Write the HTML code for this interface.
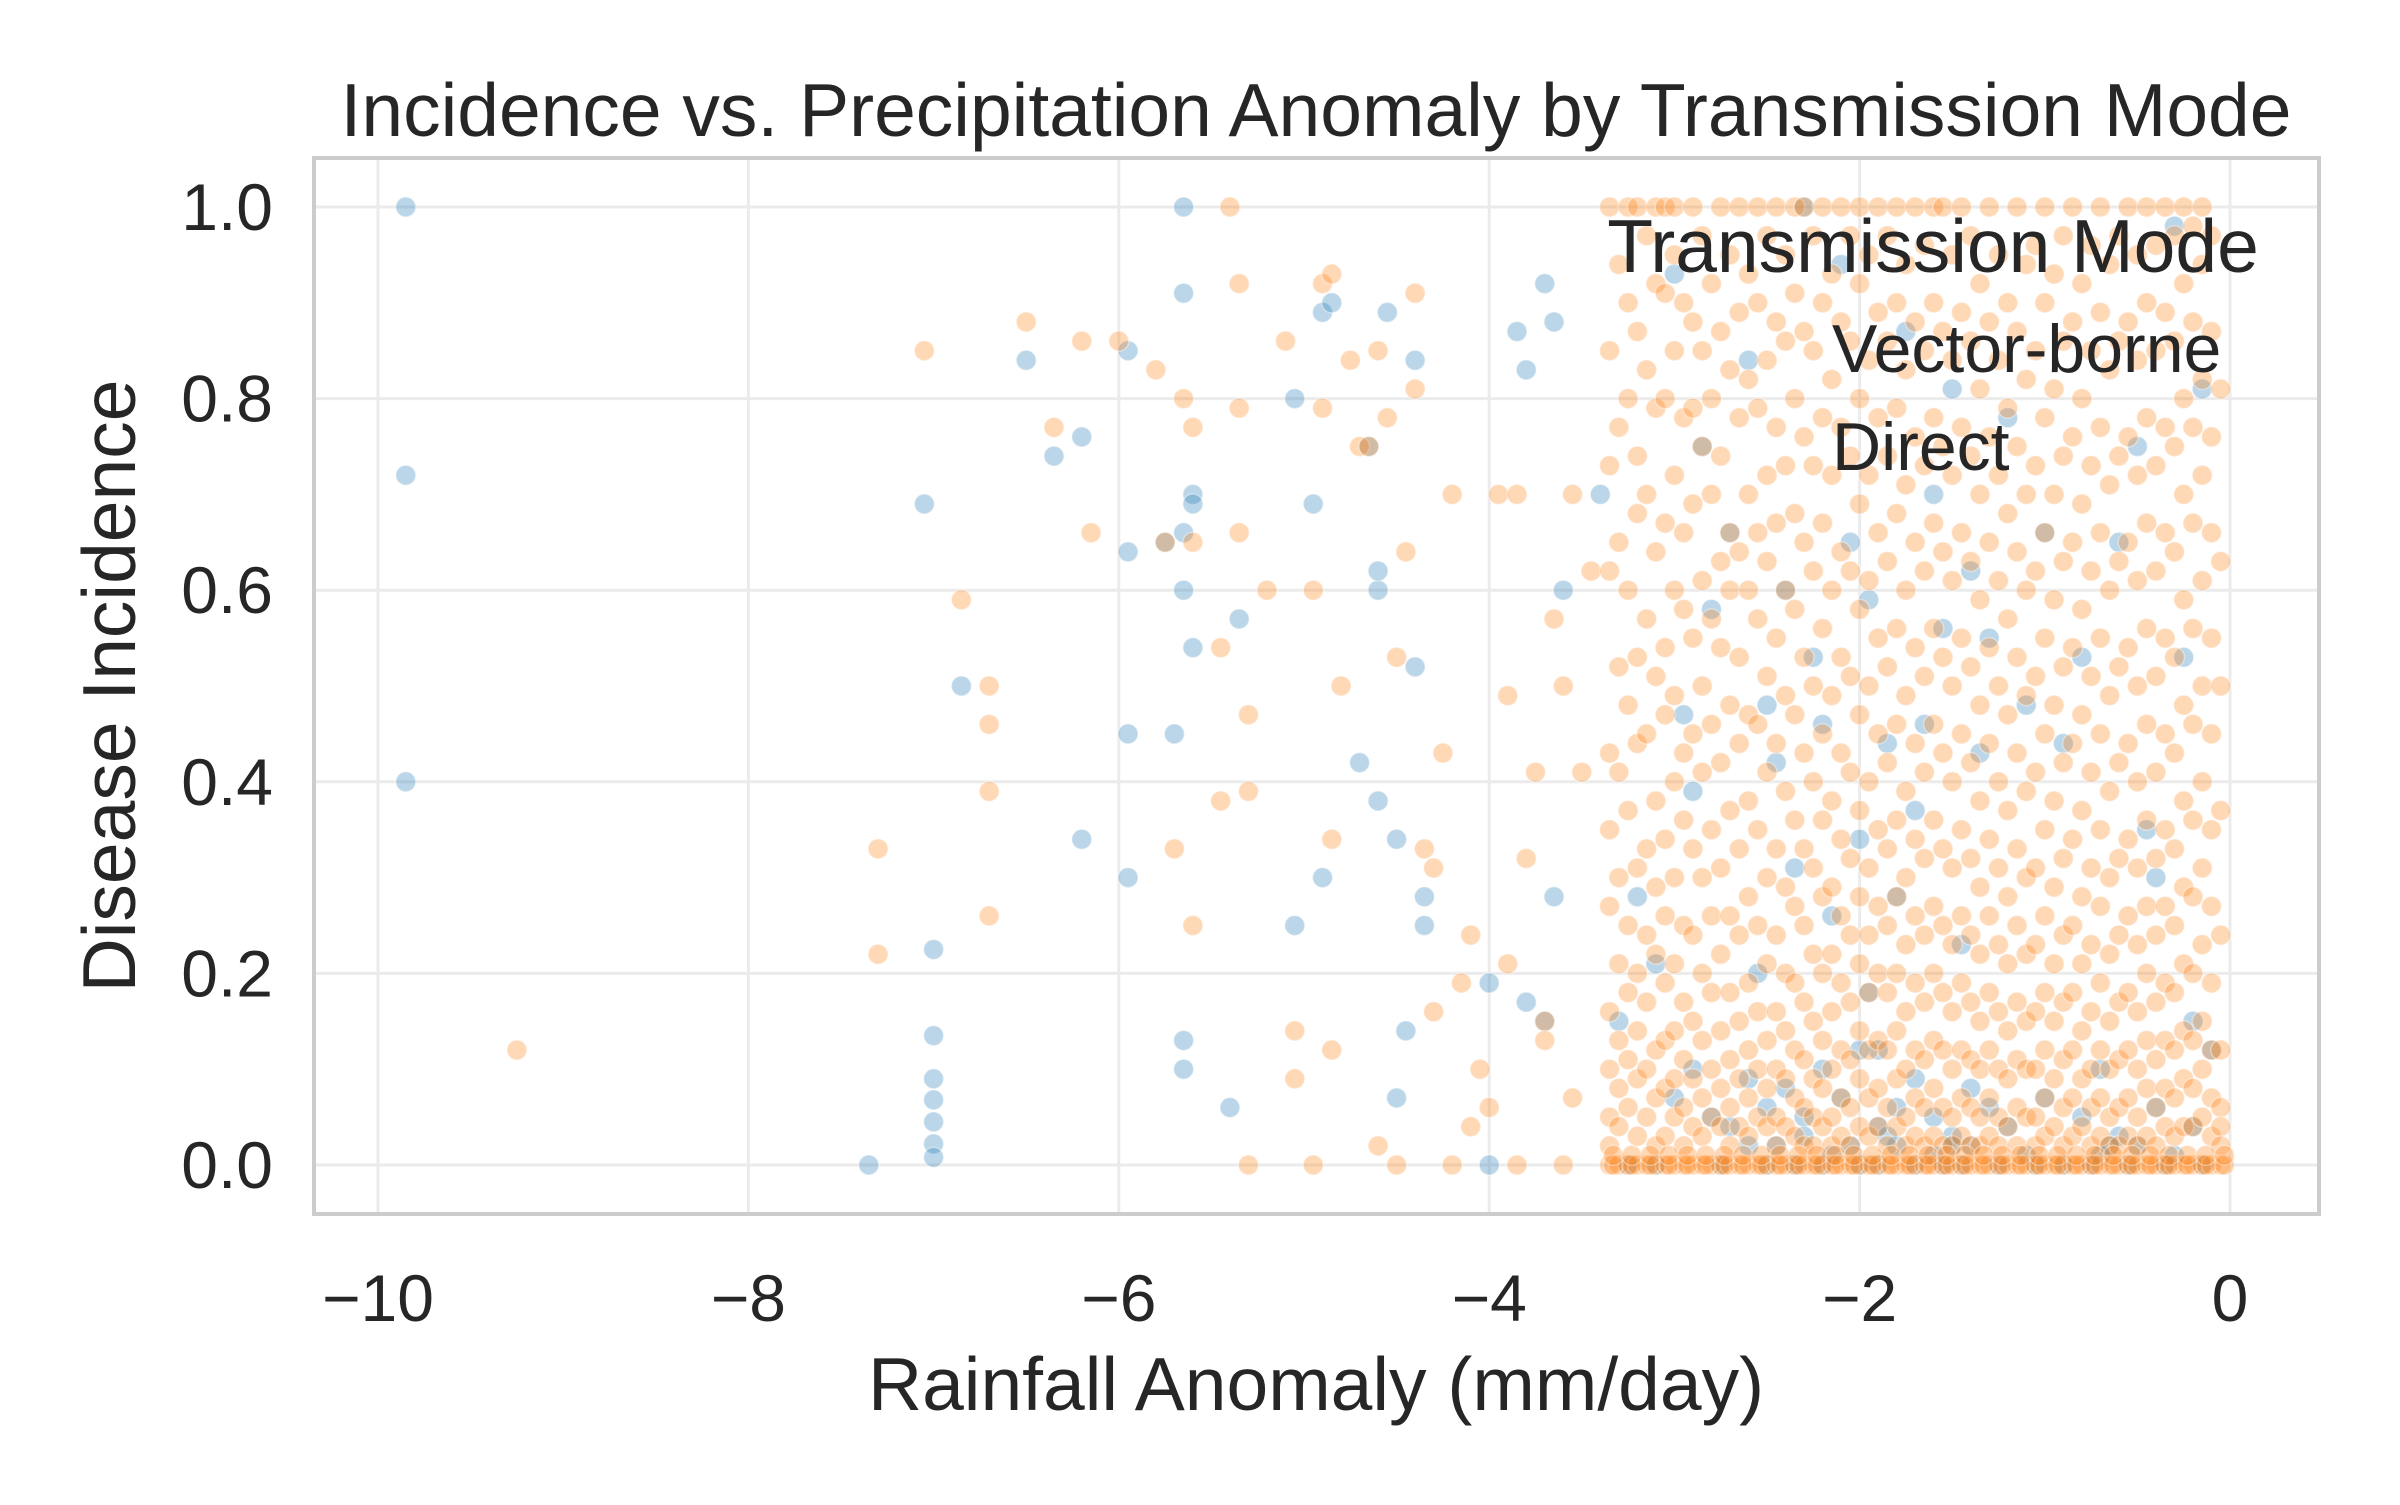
<!DOCTYPE html>
<html><head><meta charset="utf-8"><style>
html,body{margin:0;padding:0;background:#fff;}
svg text{font-family:"Liberation Sans","DejaVu Sans",sans-serif;fill:#262626;}
</style></head><body>
<svg id="chart" width="2400" height="1500" viewBox="0 0 2400 1500" xmlns="http://www.w3.org/2000/svg">
<rect x="0" y="0" width="2400" height="1500" fill="#fff"/>
<g id="grid"></g>
<g id="pts"></g>
<rect x="314" y="158" width="2005" height="1056" fill="none" stroke="#cccccc" stroke-width="4"/>
<g id="ticks"></g>
<text x="1316" y="136" font-size="75" text-anchor="middle">Incidence vs. Precipitation Anomaly by Transmission Mode</text>
<text x="1316" y="1410" font-size="75" text-anchor="middle">Rainfall Anomaly (mm/day)</text>
<text transform="translate(135,686) rotate(-90)" font-size="75" text-anchor="middle">Disease Incidence</text>
<g>
<text x="1933" y="272" font-size="75" text-anchor="middle">Transmission Mode</text>
<text x="1832" y="372" font-size="68">Vector-borne</text>
<text x="1832" y="470" font-size="68">Direct</text>
</g>
</svg>
<script>
const xTicks=[-10,-8,-6,-4,-2,0];
const xTickLabels=["\u221210","\u22128","\u22126","\u22124","\u22122","0"];
const yTicks=[0,0.2,0.4,0.6,0.8,1.0];
const yTickLabels=["0.0","0.2","0.4","0.6","0.8","1.0"];
const vecX=[-9.85,-9.85,-9.85,-7.05,-7.0,-7.0,-7.0,-7.0,-7.0,-7.0,-7.0,-7.35,-6.85,-6.5,-6.35,-6.2,-6.2,-5.95,-5.95,-5.95,-5.95,-5.75,-5.7,-5.65,-5.65,-5.65,-5.6,-5.6,-5.65,-5.6,-5.65,-5.65,-5.35,-5.4,-5.05,-5.05,-4.9,-4.85,-4.95,-4.9,-4.65,-4.6,-4.6,-4.7,-4.6,-4.55,-4.4,-4.4,-4.5,-4.35,-4.35,-4.5,-4.45,-4.0,-3.85,-3.8,-3.7,-3.65,-3.6,-3.8,-3.7,-3.65,-4.0,-3.4,
-3.3,-3.2,-3.1,-3.0,-2.95,-2.9,-2.85,-2.8,-2.7,-2.6,-2.55,-2.5,-2.45,-2.4,-2.35,-2.3,-2.25,-2.2,-2.15,-2.1,-2.05,-2.0,-1.95,-1.9,-1.85,-1.8,-1.75,-1.7,-1.65,-1.6,-1.55,-1.5,-1.45,-1.4,-1.35,-1.3,-1.2,-1.1,-1.0,-0.9,-0.8,-0.7,-0.6,-0.5,-0.45,-0.4,-0.3,-0.25,-0.2,-0.15,-0.1,
-3.0,-2.9,-2.8,-2.7,-2.6,-2.5,-2.4,-2.3,-2.2,-2.1,-2.0,-1.9,-1.8,-1.7,-1.6,-1.5,-1.4,-1.3,-1.2,-1.0,-0.8,-0.6,-0.4,-0.2,
-3.25,-3.1,-2.75,-2.5,-2.35,-2.2,-2.0,-1.9,-1.7,-1.55,-1.45,-1.25,-1.05,-0.9,-0.75,-0.55,-0.35,-0.15,-2.6,-2.3,-2.05,-1.95,-1.8,-1.6,-1.4,-0.7,-0.5,-0.3,-2.45,-2.15,-1.85,-1.5,-1.1,-0.65];
const vecY=[1.0,0.72,0.40,0.69,0.225,0.135,0.09,0.068,0.045,0.022,0.008,0,0.50,0.84,0.74,0.76,0.34,0.85,0.64,0.45,0.30,0.65,0.45,1.0,0.91,0.66,0.70,0.69,0.60,0.54,0.13,0.10,0.57,0.06,0.80,0.25,0.89,0.90,0.69,0.30,0.75,0.60,0.62,0.42,0.38,0.89,0.84,0.52,0.34,0.28,0.25,0.07,0.14,0.19,0.87,0.83,0.92,0.88,0.60,0.17,0.15,0.28,0,0.70,
0.15,0.28,0.21,0.93,0.47,0.39,0.75,0.58,0.66,0.84,0.20,0.48,0.42,0.60,0.31,1.0,0.53,0.46,0.26,0.94,0.65,0.34,0.59,0.12,0.44,0.28,0.87,0.37,0.46,0.70,0.56,0.81,0.23,0.62,0.43,0.55,0.78,0.48,0.66,0.44,0.53,0.10,0.65,0.75,0.35,0.30,0.98,0.53,0.15,0.81,0.12,
0.07,0.10,0.05,0.04,0.09,0.06,0.08,0.05,0.10,0.07,0.12,0.04,0.06,0.09,0.05,0.03,0.08,0.06,0.04,0.07,0.05,0.03,0.06,0.04,
0,0,0,0,0,0,0,0,0,0,0,0,0,0,0,0,0,0,0.02,0.03,0.02,0.18,0.02,0.01,0.02,0.01,0.02,0.01,0.02,0.01,0.03,0.02,0.01,0.02];
const dirX=[-9.25,-7.3,-7.3,-7.05,-6.85,-6.7,-6.7,-6.7,-6.7,-6.5,-6.35,-6.2,-6.15,-6.0,-5.8,-5.75,-5.7,-5.65,-5.6,-5.6,-5.6,-5.45,-5.45,-5.4,-5.35,-5.35,-5.35,-5.3,-5.3,-5.2,-5.1,-5.05,-4.95,-4.9,-4.9,-4.85,-4.85,-4.8,-4.75,-4.7,-4.65,-4.6,-4.55,-4.5,-4.45,-4.4,-4.4,-4.35,-4.3,-4.25,-4.2,-4.15,-4.1,-4.05,-4.0,-3.95,-3.9,-3.85,-3.8,-3.75,-3.7,-3.65,-3.6,-3.55,-3.5,-3.45,-5.05,-4.85,-4.6,-4.3,-4.1,-3.9,-3.7,-3.55,-5.3,-4.95,-4.5,-4.2,-3.85,-3.6];
const dirY=[0.12,0.33,0.22,0.85,0.59,0.50,0.46,0.39,0.26,0.88,0.77,0.86,0.66,0.86,0.83,0.65,0.33,0.80,0.77,0.25,0.65,0.54,0.38,1.0,0.92,0.79,0.66,0.47,0.39,0.60,0.86,0.14,0.60,0.92,0.79,0.93,0.34,0.50,0.84,0.75,0.75,0.85,0.78,0.53,0.64,0.91,0.81,0.33,0.31,0.43,0.70,0.19,0.24,0.10,0.06,0.70,0.49,0.70,0.32,0.41,0.15,0.57,0.50,0.70,0.41,0.62,0.09,0.12,0.02,0.16,0.04,0.21,0.13,0.07,0,0,0,0,0,0];
const denseX=[-3.35,-3.3,-3.25,-3.2,-3.15,-3.1,-3.05,-3.0,-2.95,-2.9,-2.85,-2.8,-2.75,-2.7,-2.65,-2.6,-2.55,-2.5,-2.45,-2.4,-2.35,-2.3,-2.25,-2.2,-2.15,-2.1,-2.05,-2.0,-1.95,-1.9,-1.85,-1.8,-1.75,-1.7,-1.65,-1.6,-1.55,-1.5,-1.45,-1.4,-1.35,-1.3,-1.25,-1.2,-1.15,-1.1,-1.05,-1.0,-0.95,-0.9,-0.85,-0.8,-0.75,-0.7,-0.65,-0.6,-0.55,-0.5,-0.45,-0.4,-0.35,-0.3,-0.25,-0.2,-0.15,-0.1,-0.05];
const denseCols=[
[1.0,0.85,0.73,0.62,0.43,0.35,0.27,0.16,0.10,0.05,0.02,0],
[0.94,0.77,0.65,0.52,0.41,0.30,0.21,0.13,0.08,0.04,0],
[1.0,0.90,0.80,0.60,0.48,0.37,0.25,0.18,0.11,0.06,0],
[1.0,0.87,0.74,0.68,0.53,0.44,0.31,0.20,0.14,0.09,0.03,0],
[0.97,0.83,0.70,0.57,0.45,0.33,0.24,0.17,0.10,0.05,0],
[1.0,0.92,0.79,0.64,0.51,0.38,0.29,0.22,0.12,0.07,0.02,0],
[1.0,0.91,0.80,0.67,0.54,0.47,0.34,0.26,0.19,0.13,0.08,0.03,0],
[1.0,0.95,0.85,0.72,0.60,0.49,0.40,0.30,0.21,0.14,0.09,0.05,0],
[0.90,0.78,0.66,0.58,0.43,0.36,0.25,0.17,0.11,0.06,0.02,0],
[1.0,0.88,0.79,0.69,0.55,0.45,0.33,0.24,0.15,0.09,0.04,0],
[0.97,0.85,0.75,0.61,0.50,0.41,0.30,0.20,0.13,0.07,0.03,0],
[0.92,0.80,0.70,0.57,0.46,0.35,0.26,0.18,0.10,0.05,0],
[1.0,0.87,0.74,0.63,0.54,0.42,0.31,0.22,0.14,0.08,0.04,0],
[0.95,0.83,0.66,0.60,0.48,0.37,0.26,0.18,0.11,0.06,0.02,0],
[1.0,0.89,0.78,0.64,0.53,0.44,0.33,0.24,0.15,0.09,0.04,0],
[0.93,0.82,0.70,0.60,0.47,0.38,0.28,0.19,0.12,0.07,0.03,0],
[1.0,0.90,0.79,0.66,0.57,0.46,0.35,0.25,0.16,0.10,0.05,0],
[0.97,0.84,0.72,0.63,0.51,0.41,0.30,0.21,0.13,0.08,0.04,0],
[1.0,0.88,0.77,0.67,0.55,0.44,0.33,0.24,0.16,0.10,0.05,0.02,0],
[0.95,0.86,0.73,0.60,0.49,0.39,0.29,0.20,0.14,0.09,0.04,0],
[1.0,0.91,0.80,0.68,0.58,0.47,0.36,0.27,0.19,0.12,0.07,0.03,0],
[1.0,0.87,0.76,0.65,0.53,0.43,0.33,0.25,0.17,0.11,0.06,0.02,0],
[0.97,0.85,0.73,0.62,0.50,0.40,0.31,0.22,0.15,0.09,0.05,0.02,0],
[1.0,0.90,0.78,0.67,0.56,0.45,0.36,0.28,0.20,0.13,0.08,0.04,0],
[0.93,0.82,0.72,0.60,0.49,0.38,0.29,0.22,0.16,0.10,0.05,0.02,0],
[1.0,0.88,0.77,0.64,0.53,0.43,0.34,0.26,0.19,0.12,0.07,0.03,0],
[0.97,0.86,0.74,0.62,0.51,0.41,0.32,0.24,0.17,0.11,0.06,0.02,0],
[1.0,0.92,0.80,0.69,0.58,0.47,0.37,0.28,0.21,0.14,0.09,0.04,0],
[0.95,0.84,0.72,0.61,0.50,0.40,0.31,0.24,0.18,0.12,0.07,0.03,0],
[1.0,0.89,0.78,0.66,0.55,0.45,0.35,0.27,0.20,0.13,0.08,0.04,0],
[0.97,0.86,0.74,0.63,0.52,0.42,0.33,0.25,0.18,0.12,0.06,0.02,0],
[1.0,0.90,0.79,0.68,0.56,0.46,0.36,0.28,0.20,0.14,0.09,0.04,0],
[0.94,0.83,0.71,0.60,0.49,0.39,0.30,0.23,0.16,0.10,0.05,0.02,0],
[1.0,0.88,0.76,0.65,0.54,0.44,0.34,0.26,0.19,0.12,0.07,0.03,0],
[0.96,0.85,0.73,0.62,0.51,0.41,0.32,0.24,0.17,0.11,0.06,0.02,0],
[1.0,0.90,0.78,0.67,0.56,0.46,0.36,0.27,0.20,0.13,0.08,0.03,0],
[1.0,0.87,0.75,0.64,0.53,0.43,0.33,0.25,0.18,0.12,0.06,0.02,0],
[0.95,0.84,0.72,0.61,0.50,0.40,0.31,0.23,0.16,0.10,0.05,0.02,0],
[1.0,0.89,0.77,0.66,0.55,0.45,0.35,0.26,0.19,0.12,0.07,0.03,0],
[0.97,0.86,0.74,0.63,0.52,0.42,0.32,0.24,0.17,0.11,0.06,0.02,0],
[0.92,0.81,0.70,0.59,0.48,0.38,0.29,0.22,0.15,0.10,0.05,0.02,0],
[1.0,0.88,0.76,0.65,0.54,0.44,0.34,0.26,0.18,0.12,0.07,0.03,0],
[0.95,0.84,0.72,0.61,0.50,0.40,0.31,0.23,0.16,0.10,0.05,0.02,0],
[0.90,0.79,0.68,0.57,0.47,0.37,0.28,0.21,0.14,0.09,0.04,0],
[1.0,0.87,0.75,0.64,0.53,0.43,0.33,0.25,0.17,0.11,0.06,0.02,0],
[0.94,0.82,0.70,0.60,0.49,0.39,0.30,0.22,0.15,0.10,0.05,0],
[0.96,0.85,0.73,0.62,0.51,0.41,0.31,0.23,0.16,0.10,0.05,0.02,0],
[1.0,0.90,0.78,0.66,0.55,0.45,0.35,0.26,0.18,0.12,0.07,0.03,0],
[0.93,0.81,0.70,0.59,0.48,0.38,0.29,0.21,0.15,0.09,0.04,0],
[0.97,0.86,0.74,0.63,0.52,0.42,0.32,0.24,0.17,0.11,0.06,0.02,0],
[1.0,0.88,0.76,0.65,0.54,0.44,0.34,0.25,0.18,0.12,0.07,0.03,0],
[0.92,0.80,0.69,0.58,0.47,0.37,0.28,0.21,0.14,0.09,0.04,0],
[0.96,0.85,0.73,0.62,0.51,0.41,0.31,0.23,0.16,0.10,0.06,0.02,0],
[1.0,0.89,0.77,0.66,0.55,0.45,0.35,0.27,0.19,0.12,0.07,0.03,0],
[0.94,0.83,0.71,0.60,0.49,0.39,0.30,0.22,0.15,0.10,0.05,0.02,0],
[0.97,0.86,0.74,0.63,0.52,0.42,0.32,0.24,0.17,0.11,0.06,0.02,0],
[1.0,0.88,0.76,0.65,0.54,0.44,0.34,0.26,0.18,0.12,0.07,0.03,0],
[0.95,0.84,0.72,0.61,0.50,0.40,0.31,0.23,0.16,0.10,0.05,0.02,0],
[1.0,0.90,0.78,0.67,0.56,0.46,0.36,0.27,0.20,0.13,0.08,0.03,0],
[0.96,0.85,0.73,0.62,0.51,0.41,0.32,0.24,0.17,0.11,0.06,0.02,0],
[1.0,0.89,0.77,0.66,0.55,0.45,0.35,0.27,0.19,0.13,0.08,0.04,0],
[0.97,0.86,0.75,0.64,0.53,0.43,0.33,0.25,0.18,0.12,0.07,0.03,0],
[1.0,0.92,0.80,0.70,0.59,0.48,0.38,0.29,0.21,0.14,0.09,0.04,0],
[0.98,0.88,0.77,0.67,0.56,0.46,0.36,0.28,0.20,0.13,0.08,0.04,0],
[1.0,0.94,0.82,0.72,0.61,0.50,0.40,0.31,0.23,0.15,0.10,0.05,0],
[0.97,0.87,0.76,0.66,0.55,0.45,0.35,0.27,0.19,0.12,0.07,0.03,0],
[0.81,0.63,0.50,0.37,0.24,0.12,0.06,0.04,0.02,0]
];
const X0=-10,X1=0,PX0=378,PX1=2230;
const Y0=0,Y1=1,PY0=1165,PY1=207;
function sx(v){return PX0+(v-X0)*(PX1-PX0)/(X1-X0);}
function sy(v){return PY0+(v-Y0)*(PY1-PY0)/(Y1-Y0);}
const NS="http://www.w3.org/2000/svg";
const grid=document.getElementById('grid'),ticks=document.getElementById('ticks'),pts=document.getElementById('pts');
xTicks.forEach((t,i)=>{
 const l=document.createElementNS(NS,'line');
 
 
 l.setAttribute('x1',sx(t));l.setAttribute('x2',sx(t));l.setAttribute('y1',158);l.setAttribute('y2',1214);
 l.setAttribute('stroke','#ebebeb');l.setAttribute('stroke-width','3');grid.appendChild(l);
 const tx=document.createElementNS(NS,'text');
 
 
 tx.setAttribute('x',sx(t));tx.setAttribute('y',1321);tx.setAttribute('font-size','66');tx.setAttribute('text-anchor','middle');
 tx.textContent=xTickLabels[i];ticks.appendChild(tx);
});
yTicks.forEach((t,i)=>{
 const l=document.createElementNS(NS,'line');
 
 
 l.setAttribute('y1',sy(t));l.setAttribute('y2',sy(t));l.setAttribute('x1',314);l.setAttribute('x2',2319);
 l.setAttribute('stroke','#ebebeb');l.setAttribute('stroke-width','3');grid.appendChild(l);
 const tx=document.createElementNS(NS,'text');
 
 
 tx.setAttribute('x',273);tx.setAttribute('y',sy(t)+23);tx.setAttribute('font-size','66');tx.setAttribute('text-anchor','end');
 tx.textContent=yTickLabels[i];ticks.appendChild(tx);
});
function dot(x,y,col,name){
 const c=document.createElementNS(NS,'circle');
 
 
 c.setAttribute('cx',sx(x));c.setAttribute('cy',sy(y));c.setAttribute('r',10);
 c.setAttribute('fill',col);c.setAttribute('fill-opacity','0.3');
 c.setAttribute('stroke','#fff');c.setAttribute('stroke-width','1.5');c.setAttribute('stroke-opacity','0.4');
 pts.appendChild(c);
}
vecX.forEach((x,i)=>dot(x,vecY[i],'#1f77b4','vector-borne-point'));
dirX.forEach((x,i)=>dot(x,dirY[i],'#ff7f0e','direct-point'));
denseX.forEach((x,i)=>denseCols[i].forEach(y=>dot(x,y,'#ff7f0e','direct-point')));
denseX.forEach((x,i)=>{if(i%2===0){dot(x+0.02,0,'#ff7f0e','direct-point');dot(x+0.02,0.01,'#ff7f0e','direct-point');}});
</script>
</body></html>
